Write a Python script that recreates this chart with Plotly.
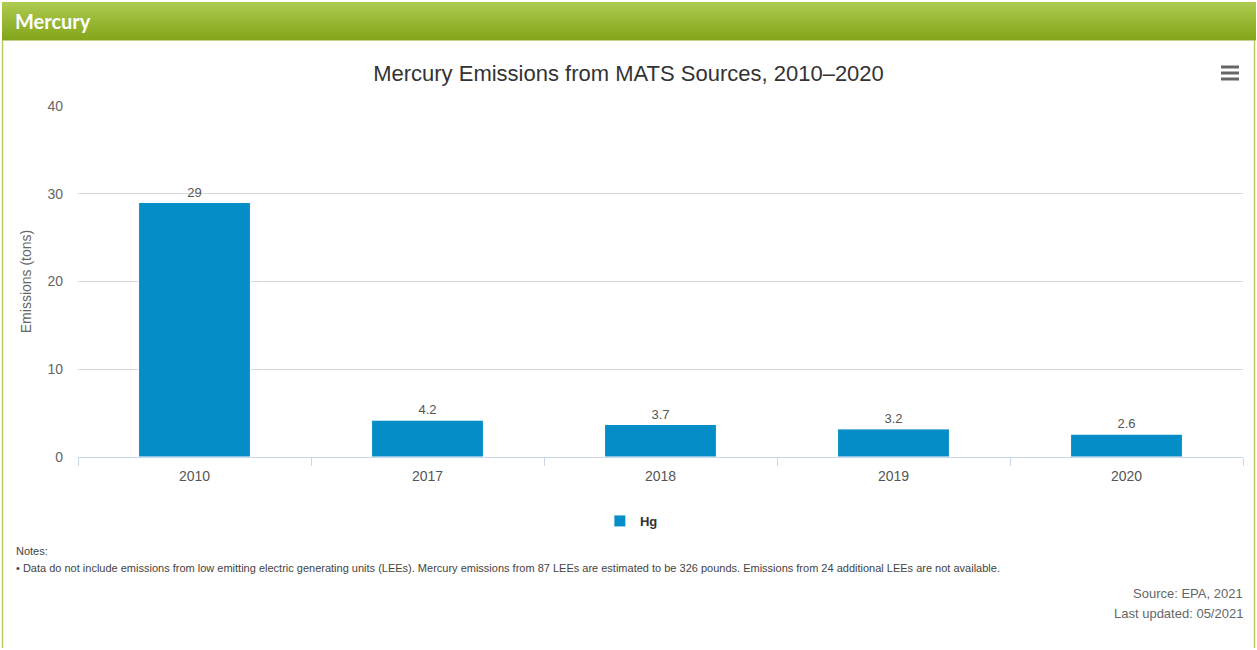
import plotly.graph_objects as go

years = ["2010", "2017", "2018", "2019", "2020"]
hg_tons = [29, 4.2, 3.7, 3.2, 2.6]
hg_labels = ["29", "4.2", "3.7", "3.2", "2.6"]
y_ticks = [0, 10, 20, 30, 40]

W, H = 1257, 650
L, R, T, B = 78, 1243, 106, 457


def px(x):
    return (x - L) / (R - L)


def py(y):
    return (B - y) / (B - T)


fig = go.Figure()
fig.add_trace(go.Bar(
    x=years, y=hg_tons, name="<b>Hg</b>",
    marker=dict(color="#058dc7", line=dict(color="#ffffff", width=1)),
    width=0.48,
    text=hg_labels, textposition="outside",
    textfont=dict(family="Liberation Sans, Arial", size=13, color="#555555"),
    cliponaxis=False,
))

shapes = []
# header gradient
top_c = (0xad, 0xca, 0x50)
bot_c = (0x84, 0xa6, 0x1b)
y0, y1 = 2, 40
n = 19
for i in range(n):
    t = i / (n - 1)
    c = tuple(int(top_c[k] + (bot_c[k] - top_c[k]) * t) for k in range(3))
    ya = y0 + (y1 - y0) * i / n
    yb = y0 + (y1 - y0) * (i + 1) / n + 0.6
    shapes.append(dict(type="rect", xref="paper", yref="paper",
                       x0=px(2), x1=px(1256), y0=py(yb), y1=py(ya),
                       fillcolor="rgb(%d,%d,%d)" % c, line=dict(width=0), layer="below"))
# panel borders
for xx in (2.5, 1254.5):
    shapes.append(dict(type="line", xref="paper", yref="paper",
                       x0=px(xx), x1=px(xx), y0=py(40), y1=py(648),
                       line=dict(color="#b6cf5e", width=1.5)))
# menu icon
for yy in (67, 73, 79):
    shapes.append(dict(type="line", xref="paper", yref="paper",
                       x0=px(1221), x1=px(1239), y0=py(yy), y1=py(yy),
                       line=dict(color="#666666", width=3)))

annotations = [
    dict(text="<b>Mercury</b>", xref="paper", yref="paper", x=px(13), y=py(21),
         xanchor="left", yanchor="middle", showarrow=False,
         font=dict(family="Lato", size=20, color="#ffffff")),
    dict(text="Notes:", xref="paper", yref="paper", x=px(14), y=py(551),
         xanchor="left", yanchor="middle", showarrow=False,
         font=dict(family="Liberation Sans, Arial", size=11, color="#444444")),
    dict(text="• Data do not include emissions from low emitting electric generating units (LEEs). "
              "Mercury emissions from 87 LEEs are estimated to be 326 pounds. "
              "Emissions from 24 additional LEEs are not available.",
         xref="paper", yref="paper", x=px(14), y=py(568),
         xanchor="left", yanchor="middle", showarrow=False,
         font=dict(family="Liberation Sans, Arial", size=11, color="#444444")),
    dict(text="Source: EPA, 2021", xref="paper", yref="paper", x=px(1245), y=py(593),
         xanchor="right", yanchor="middle", showarrow=False,
         font=dict(family="Liberation Sans, Arial", size=13, color="#666666")),
    dict(text="Last updated: 05/2021", xref="paper", yref="paper", x=px(1245), y=py(613),
         xanchor="right", yanchor="middle", showarrow=False,
         font=dict(family="Liberation Sans, Arial", size=13, color="#666666")),
]

fig.update_layout(
    width=W, height=H,
    margin=dict(l=L, r=W - R, t=T, b=H - B, pad=0),
    paper_bgcolor="#ffffff", plot_bgcolor="#ffffff",
    title=dict(text="Mercury Emissions from MATS Sources, 2010–2020",
               x=0.5, xref="container", xanchor="center", y=1 - 73 / H, yanchor="middle",
               font=dict(family="Liberation Sans, Arial", size=22, color="#333333")),
    font=dict(family="Liberation Sans, Arial", color="#666666"),
    showlegend=True,
    legend=dict(orientation="h", x=0.475, xanchor="center", y=py(521), yanchor="middle",
                font=dict(family="Liberation Sans, Arial", size=13, color="#333333"),
                itemwidth=30, bgcolor="rgba(0,0,0,0)"),
    shapes=shapes,
    annotations=annotations,
)

fig.update_xaxes(
    type="category", showgrid=False, showline=True, linecolor="#ccd6eb", linewidth=1,
    ticks="outside", tickson="boundaries", ticklen=8, tickcolor="#ccd6eb",
    tickfont=dict(size=14, color="#555555"), zeroline=False, ticklabelstandoff=6,
)
fig.update_yaxes(
    range=[0, 40], tickvals=y_ticks, showgrid=True, gridcolor="#d9d9d9", gridwidth=1,
    zeroline=False, showline=False,
    tickfont=dict(size=14, color="#666666"), ticklabelstandoff=14,
    title=dict(text="Emissions (tons)", standoff=12,
               font=dict(size=14, color="#666666")),
)

fig.write_html("out.html", config={"displayModeBar": False},
               post_script="document.body.style.margin='0';document.body.style.padding='0';")
